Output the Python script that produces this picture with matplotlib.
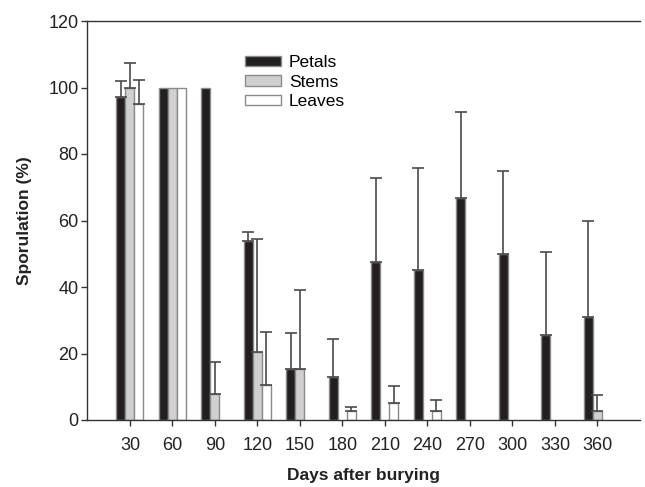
import matplotlib
matplotlib.use("Agg")
import matplotlib.pyplot as plt
import numpy as np
from matplotlib.patches import Patch

plt.rcParams['font.family'] = ['Liberation Sans', 'DejaVu Sans']

days = [30, 60, 90, 120, 150, 180, 210, 240, 270, 300, 330, 360]
petals = [97.0, 100, 100, 53.9, 15.4, 12.9, 47.6, 45.1, 66.7, 50.0, 25.6, 30.9]
petals_err = [5.0, 0, 0, 2.5, 10.8, 11.5, 25.2, 30.8, 25.9, 25.0, 25.0, 28.9]
stems = [100, 100, 7.7, 20.5, 15.4, 0, 0, 0, 0, 0, 0, 2.7]
stems_err = [7.5, 0, 9.6, 33.8, 23.8, 0, 0, 0, 0, 0, 0, 4.9]
leaves = [95.0, 100, 0, 10.4, 0, 2.7, 5.1, 2.7, 0, 0, 0, 0]
leaves_err = [7.3, 0, 0, 16.0, 0, 1.3, 5.2, 3.4, 0, 0, 0, 0]

fig = plt.figure(figsize=(6.45, 4.87), dpi=100)
ax = fig.add_axes([87/645, 1 - 420/487, (640-87)/645, (420-21)/487])

x = np.arange(len(days))
w = 0.212
series = [
    (petals, petals_err, '#231f20', -w, 'Petals'),
    (stems, stems_err, '#d0d0d0', 0, 'Stems'),
    (leaves, leaves_err, '#ffffff', w, 'Leaves'),
]
for vals, errs, col, off, lab in series:
    xs = [xi + off for xi, v in zip(x, vals) if v > 0]
    vs = [v for v in vals if v > 0]
    ax.bar(xs, vs, width=w, color=col, edgecolor='#8a8a8a', linewidth=1.0, zorder=2)
    for xi, v, e in zip(x + off, vals, errs):
        if e > 0:
            ax.errorbar([xi], [v], yerr=[[0], [e]], fmt='none', ecolor='#4a4a4a',
                        elinewidth=1.2, capsize=4.5, capthick=1.2, zorder=3)

ax.set_xlim(-1.01, 12.0)
ax.set_ylim(0, 120)
ax.set_yticks(range(0, 121, 20))
ax.set_xticks(x)
ax.set_xticklabels([str(d) for d in days])
ax.spines['right'].set_visible(False)
for s in ['left', 'bottom', 'top']:
    ax.spines[s].set_linewidth(1.0)
    ax.spines[s].set_color('#333333')
ax.tick_params(axis='both', labelsize=13, length=4, width=1.0, color='#333333', labelcolor='#222222')
ax.tick_params(axis='x', pad=8)
ax.tick_params(axis='y', pad=2)

ax.set_xlabel('Days after burying', fontsize=12.5, fontweight='bold', color='#222222', labelpad=10)
ax.set_ylabel('Sporulation (%)', fontsize=12.5, fontweight='bold', color='#222222', labelpad=12)

handles = [Patch(facecolor=c, edgecolor='#8a8a8a', label=l) for _, _, c, _, l in series]
leg = ax.legend(handles=handles, loc='upper left', bbox_to_anchor=(0.285, 0.915), frameon=False,
                fontsize=12.5, handlelength=2.1, handleheight=0.55, handletextpad=0.45,
                labelspacing=0.27, borderaxespad=0, borderpad=0)

fig.savefig('out.png', dpi=100)
